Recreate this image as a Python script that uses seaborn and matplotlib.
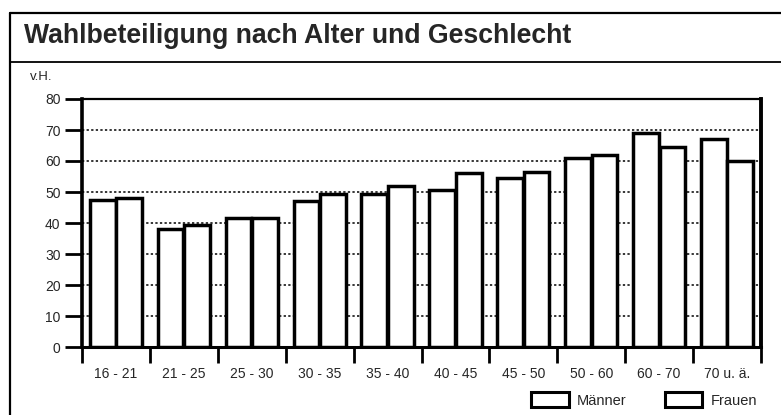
import matplotlib
matplotlib.use("Agg")
import matplotlib.pyplot as plt
import matplotlib.patches as mpatches
from matplotlib.lines import Line2D
import seaborn as sns
import pandas as pd
import numpy as np

# ---- data ----
categories = ["16 - 21", "21 - 25", "25 - 30", "30 - 35", "35 - 40",
              "40 - 45", "45 - 50", "50 - 60", "60 - 70", "70 u. ä."]
maenner = [47.5, 38.0, 41.5, 47.0, 49.5, 50.5, 54.5, 61.0, 69.0, 67.0]
frauen = [48.0, 39.5, 41.5, 49.5, 52.0, 56.0, 56.5, 62.0, 64.5, 60.0]
series_names = ["Männer", "Frauen"]
yticks = [0, 10, 20, 30, 40, 50, 60, 70, 80]
title = "Wahlbeteiligung nach Alter und Geschlecht"
unit = "v.H."

df = pd.DataFrame({
    "Alter": categories * 2,
    "Wert": maenner + frauen,
    "Geschlecht": [series_names[0]] * len(categories) + [series_names[1]] * len(categories),
})

sns.set_theme(style="white")
plt.rcParams["font.family"] = ["Liberation Sans", "DejaVu Sans"]

W, H = 781, 415
fig = plt.figure(figsize=(W / 100, H / 100), dpi=100)
ax = fig.add_axes([82 / W, 1 - 347 / H, (761 - 82) / W, (347 - 99) / H])

sns.barplot(data=df, x="Alter", y="Wert", hue="Geschlecht", order=categories,
            hue_order=series_names, palette={series_names[0]: "white", series_names[1]: "white"},
            saturation=1, edgecolor="black", linewidth=2.5, width=0.78, gap=0.03,
            legend=False, ax=ax, zorder=3)

ax.set_xlim(-0.5, len(categories) - 0.5)
ax.set_ylim(0, 80)
ax.set_xlabel("")
ax.set_ylabel("")

# grid
ax.set_yticks(yticks)
ax.set_yticklabels([str(v) for v in yticks])
ax.yaxis.grid(True, linestyle=(0, (1.5, 1.5)), color="black", linewidth=1.1)
ax.xaxis.grid(False)
ax.set_axisbelow(True)

# ticks
ax.tick_params(axis="y", length=12, width=2.0, color="black", pad=3.5, left=True, labelsize=10)
ax.set_xticks(range(len(categories)))
ax.set_xticklabels(categories)
ax.set_xticks(np.arange(-0.5, len(categories)), minor=True)
ax.tick_params(axis="x", which="major", length=0, pad=14.5, labelsize=10)
ax.tick_params(axis="x", which="minor", length=11.5, width=2.0, color="black", bottom=True)

for side, lw in [("left", 2.6), ("right", 2.8), ("top", 1.6), ("bottom", 2.2)]:
    ax.spines[side].set_visible(True)
    ax.spines[side].set_color("black")
    ax.spines[side].set_linewidth(lw)

# title band / frame
fig.add_artist(Line2D([10 / W, 10 / W], [0, 1 - 13 / H], color="black", lw=1.6))
fig.add_artist(Line2D([10 / W, 1], [1 - 13 / H, 1 - 13 / H], color="black", lw=1.6))
fig.add_artist(Line2D([10 / W, 1], [1 - 62 / H, 1 - 62 / H], color="black", lw=1.3))
fig.text(24 / W, 1 - 36 / H, title, fontsize=19.2, fontweight="bold", va="center", ha="left")
fig.text(30 / W, 1 - 77 / H, unit, fontsize=9.5, va="center", ha="left")

# legend
handles = [mpatches.Patch(facecolor="white", edgecolor="black", linewidth=2.2, label=n) for n in series_names]
fig.legend(handles=handles, loc="center right", bbox_to_anchor=(757 / W, 1 - 400 / H),
           ncol=2, frameon=False, fontsize=10.5, handlelength=2.6, handleheight=1.15,
           handletextpad=0.55, columnspacing=2.6, borderpad=0, borderaxespad=0)

fig.savefig("out.png", dpi=100)
